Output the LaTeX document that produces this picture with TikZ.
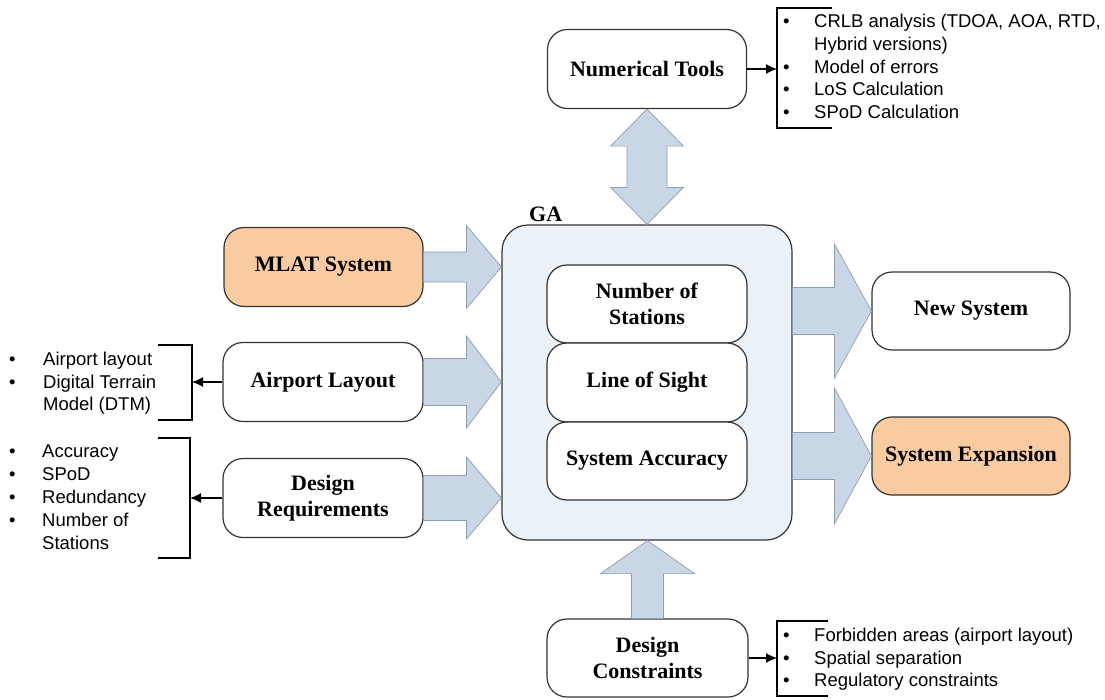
\documentclass[tikz,border=0pt]{standalone}
\usepackage{fontspec}
\setmainfont{Liberation Serif}
\newfontfamily\arialfont{Liberation Sans}
\usetikzlibrary{arrows.meta,calc}
\definecolor{orangefill}{HTML}{F9CBA0}
\definecolor{gafill}{HTML}{EBF2F7}
\definecolor{arrowfill}{HTML}{C9D6E6}
\definecolor{arrowline}{HTML}{8E9DB0}
\definecolor{boxline}{HTML}{333333}
\newcommand\rightblock[5]{%
  \draw[blockarrow] let \p1=(#1), \p2=(#2) in
  (\x1,\y1+#3) -- (\x2-#5,\y1+#3) -- (\x2-#5,\y1+#4) -- (\x2,\y1) --
  (\x2-#5,\y1-#4) -- (\x2-#5,\y1-#3) -- (\x1,\y1-#3) -- cycle;}
\newcommand\upblock[5]{%
  \draw[blockarrow] let \p1=(#1), \p2=(#2) in
  (\x1-#3,\y1) -- (\x1-#3,\y2-#5) -- (\x1-#4,\y2-#5) -- (\x1,\y2) --
  (\x1+#4,\y2-#5) -- (\x1+#3,\y2-#5) -- (\x1+#3,\y1) -- cycle;}
\newcommand\dblblock[5]{%
  \draw[blockarrow] let \p1=(#1), \p2=(#2) in
  (\x1,\y1) -- (\x1+#4,\y1-#5) -- (\x1+#3,\y1-#5) -- (\x1+#3,\y2+#5) --
  (\x1+#4,\y2+#5) -- (\x1,\y2) -- (\x1-#4,\y2+#5) -- (\x1-#3,\y2+#5) --
  (\x1-#3,\y1-#5) -- (\x1-#4,\y1-#5) -- cycle;}
\begin{document}
\begin{tikzpicture}[x=1pt,y=-1pt,
  box/.style={draw=boxline, line width=1.2pt, rounded corners=20pt, fill=white,
    minimum width=199pt, minimum height=79pt, inner sep=0pt, align=center,
    font=\fontsize{22}{26}\selectfont\bfseries},
  orangebox/.style={box, fill=orangefill},
  gabox/.style={draw=boxline, line width=1.2pt, rounded corners=26pt, fill=gafill,
    minimum width=290pt, minimum height=315pt, inner sep=0pt},
  blockarrow/.style={draw=arrowline, line width=0.7pt, fill=arrowfill, line join=miter},
  bracket/.style={draw=black, line width=1.6pt},
  smallarrow/.style={draw=black, line width=1.4pt, -{Latex[length=11pt,width=10pt]}},
  listtext/.style={inner sep=0pt, font=\arialfont\fontsize{18.5}{22.8}\selectfont}
]
\useasboundingbox (0,0) rectangle (1105,699);

% nodes
\node[box] (num) at (647,69) {Numerical Tools};
\node[gabox] (ga) at (647,382.5) {};
\node[font=\fontsize{22}{26}\selectfont\bfseries, anchor=south west, inner sep=0pt] (galabel) at (529,222) {GA};
\node[box, minimum width=200pt, minimum height=78pt] (nos) at (647,304) {Number of\\Stations};
\node[box, minimum width=200pt, minimum height=79pt] (los) at (647,382.5) {Line of Sight};
\node[box, minimum width=200pt, minimum height=78pt] (sa) at (647,461) {System Accuracy};
\node[orangebox] (mlat) at (323.5,267) {MLAT System};
\node[box, minimum width=200pt] (air) at (323,382) {Airport Layout};
\node[box, minimum width=200pt] (req) at (323,498) {Design\\Requirements};
\node[box, minimum width=198pt, minimum height=78pt] (newsys) at (971,311) {New System};
\node[orangebox, minimum width=198pt, minimum height=78pt] (sysexp) at (971,456) {System Expansion};
\node[box, minimum width=201pt, minimum height=78pt] (dcon) at (647.5,658) {Design\\Constraints};

% block arrows
\dblblock{num.south}{num.south |- ga.north}{20pt}{36.5pt}{37pt}
\rightblock{mlat.east}{mlat.east -| ga.west}{15pt}{41.5pt}{35pt}
\rightblock{air.east}{air.east -| ga.west}{23.5pt}{46pt}{35pt}
\rightblock{req.east}{req.east -| ga.west}{22.5pt}{41pt}{35pt}
\rightblock{ga.east |- newsys.west}{newsys.west}{23.5pt}{67pt}{37pt}
\rightblock{ga.east |- sysexp.west}{sysexp.west}{23.5pt}{68pt}{37pt}
\upblock{dcon.north}{dcon.north |- ga.south}{16pt}{47pt}{33pt}

% brackets and lists
\coordinate (numbr) at (777,69);
\draw[bracket] ($(numbr)+(55,-61)$) -- ($(numbr)+(0,-61)$) -- ($(numbr)+(0,59)$) -- ($(numbr)+(55,59)$);
\draw[smallarrow] (num.east) -- (numbr);
\node[listtext, anchor=west] (numlist) at (783,68.5) {%
  \begin{tabular}{@{}p{31pt}@{}l@{}}
  \textbullet & CRLB analysis (TDOA, AOA, RTD,\\
   & Hybrid versions)\\
  \textbullet & Model of errors\\
  \textbullet & LoS Calculation\\
  \textbullet & SPoD Calculation
  \end{tabular}};

\coordinate (airbr) at (192,382);
\draw[bracket] ($(airbr)+(-34,-37)$) -- ($(airbr)+(0,-37)$) -- ($(airbr)+(0,38)$) -- ($(airbr)+(-34,38)$);
\draw[smallarrow] (air.west) -- (airbr);
\node[listtext, anchor=west] (airlist) at (9,383.5) {%
  \begin{tabular}{@{}p{34pt}@{}l@{}}
  \textbullet & Airport layout\\
  \textbullet & Digital Terrain\\
   & Model (DTM)
  \end{tabular}};

\coordinate (reqbr) at (190,498);
\draw[bracket] ($(reqbr)+(-32,-60)$) -- ($(reqbr)+(0,-60)$) -- ($(reqbr)+(0,60)$) -- ($(reqbr)+(-32,60)$);
\draw[smallarrow] (req.west) -- (reqbr);
\node[listtext, anchor=west] (reqlist) at (9,499) {%
  \begin{tabular}{@{}p{33pt}@{}l@{}}
  \textbullet & Accuracy\\
  \textbullet & SPoD\\
  \textbullet & Redundancy\\
  \textbullet & Number of\\
   & Stations
  \end{tabular}};

\coordinate (dconbr) at (777,658);
\draw[bracket] ($(dconbr)+(51,-37)$) -- ($(dconbr)+(0,-37)$) -- ($(dconbr)+(0,38)$) -- ($(dconbr)+(51,38)$);
\draw[smallarrow] (dcon.east) -- (dconbr);
\node[listtext, anchor=west] (dconlist) at (783,659.5) {%
  \begin{tabular}{@{}p{31pt}@{}l@{}}
  \textbullet & Forbidden areas (airport layout)\\
  \textbullet & Spatial separation\\
  \textbullet & Regulatory constraints
  \end{tabular}};
\end{tikzpicture}
\end{document}
